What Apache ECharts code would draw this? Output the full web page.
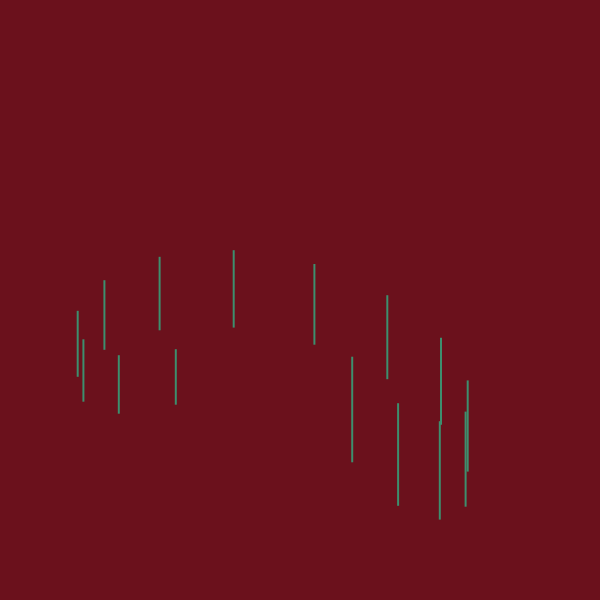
<!DOCTYPE html>
<html><head><meta charset="utf-8">
<script src="https://cdn.jsdelivr.net/npm/echarts@6/dist/echarts.min.js"></script>
<style>html,body{margin:0;padding:0;background:#6b111c;}#c{width:600px;height:600px;}</style>
</head><body><div id="c"></div>
<script>
const xs    = [12.95, 13.9, 17.4, 19.8, 26.6, 29.3, 38.95, 52.4, 58.7, 64.55, 66.35, 73.5, 73.3, 77.95, 77.6];
const lows  = [37.2, 33.05, 41.7, 31.05, 44.95, 32.55, 45.4, 42.55, 22.95, 36.8, 15.7, 29.2, 13.4, 21.4, 15.55];
const highs = [48.2, 43.45, 53.3, 40.8, 57.2, 41.8, 58.3, 56.0, 40.55, 50.8, 32.8, 43.7, 29.8, 36.6, 31.4];
const data = xs.map((x, i) => [x, lows[i], highs[i]]);
const chart = echarts.init(document.getElementById('c'));
chart.setOption({
  backgroundColor: '#6b111c',
  animation: false,
  grid: {left: 0, right: 0, top: 0, bottom: 0},
  xAxis: {type: 'value', min: 0, max: 100, show: false},
  yAxis: {type: 'value', min: 0, max: 100, show: false},
  series: [{
    type: 'custom',
    data: data,
    encode: {x: 0, y: [1, 2]},
    renderItem: function (params, api) {
      const lo = api.coord([api.value(0), api.value(1)]);
      const hi = api.coord([api.value(0), api.value(2)]);
      return {
        type: 'rect',
        shape: {x: lo[0] - 1, y: hi[1], width: 2, height: lo[1] - hi[1]},
        style: {fill: '#3d8f6e'}
      };
    }
  }]
});
</script></body></html>
